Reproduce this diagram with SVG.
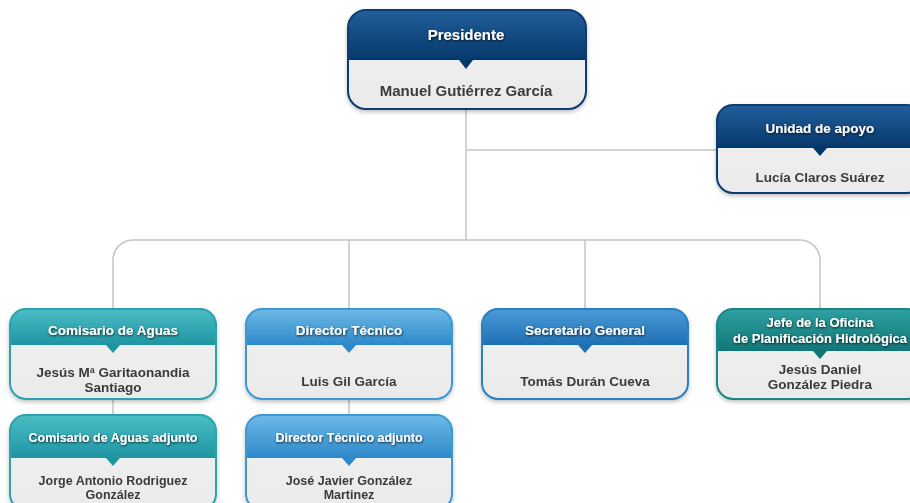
<svg xmlns="http://www.w3.org/2000/svg" width="910" height="503" viewBox="0 0 910 503">
<defs>
<linearGradient id="gNavy" x1="0" y1="0" x2="0" y2="1"><stop offset="0" stop-color="#235f9b"/><stop offset="1" stop-color="#04386b"/></linearGradient>
<linearGradient id="gTeal" x1="0" y1="0" x2="0" y2="1"><stop offset="0" stop-color="#4bbdc5"/><stop offset="1" stop-color="#1f95a2"/></linearGradient>
<linearGradient id="gLight" x1="0" y1="0" x2="0" y2="1"><stop offset="0" stop-color="#6dbae7"/><stop offset="1" stop-color="#2e88c9"/></linearGradient>
<linearGradient id="gBlue" x1="0" y1="0" x2="0" y2="1"><stop offset="0" stop-color="#4b9bd7"/><stop offset="1" stop-color="#1e70b3"/></linearGradient>
<linearGradient id="gDTeal" x1="0" y1="0" x2="0" y2="1"><stop offset="0" stop-color="#2fa0a1"/><stop offset="1" stop-color="#117676"/></linearGradient>
<linearGradient id="gBody" x1="0" y1="0" x2="0" y2="1"><stop offset="0" stop-color="#f2f2f2"/><stop offset="1" stop-color="#eaeaea"/></linearGradient>
<filter id="sh" x="-10%" y="-10%" width="120%" height="130%"><feDropShadow dx="0" dy="2" stdDeviation="2" flood-color="#000" flood-opacity="0.25"/></filter>
<filter id="tsh" x="-10%" y="-30%" width="120%" height="160%"><feDropShadow dx="0.5" dy="1" stdDeviation="0.8" flood-color="#000" flood-opacity="0.8"/></filter>
</defs>
<style>
.body{fill:url(#gBody)}
.ol{fill:none;stroke-width:2}
.hd{font-family:"Liberation Sans",Arial,sans-serif;font-weight:bold;fill:#ffffff;text-anchor:middle;filter:url(#tsh)}
.nm{font-family:"Liberation Sans",Arial,sans-serif;font-weight:bold;fill:#3a3a3a;text-anchor:middle;font-size:13.5px}
.cn{fill:none;stroke:#c4c4c4;stroke-width:1.5}
</style>
<g id="connectors">
<path class="cn" d="M466,109 V240"/>
<path class="cn" d="M466,150 H717"/>
<path class="cn" d="M113,309 V260 A20,20 0 0 1 133,240 H800 A20,20 0 0 1 820,260 V309"/>
<path class="cn" d="M349,240 V309"/>
<path class="cn" d="M585,240 V309"/>
<path class="cn" d="M113,399 V415"/>
<path class="cn" d="M349,399 V415"/>
</g>
<g id="presidente" filter="url(#sh)">
<rect class="body" x="348" y="10" width="238" height="99" rx="18"/>
<path fill="url(#gNavy)" d="M348,60 V28 A18,18 0 0 1 366,10 H568 A18,18 0 0 1 586,28 V60 Z"/>
<path fill="#04386b" d="M459,60 L473,60 L466,69 Z"/>
<rect class="ol" stroke="#0b3d70" x="348" y="10" width="238" height="99" rx="18"/>
<text class="hd" x="466" y="40" font-size="15">Presidente</text>
<text class="nm" x="466" y="96" font-size="15" style="font-size:15px">Manuel Gutiérrez García</text>
</g>
<g id="unidad" filter="url(#sh)">
<rect class="body" x="717" y="105" width="206" height="88" rx="16"/>
<path fill="url(#gNavy)" d="M717,148 V121 A16,16 0 0 1 733,105 H907 A16,16 0 0 1 923,121 V148 Z"/>
<path fill="#04386b" d="M813,148 L827,148 L820,156 Z"/>
<rect class="ol" stroke="#0b3d70" x="717" y="105" width="206" height="88" rx="16"/>
<text class="hd" x="820" y="133" font-size="13.5">Unidad de apoyo</text>
<text class="nm" x="820" y="182">Lucía Claros Suárez</text>
</g>
<g id="comisario" filter="url(#sh)">
<rect class="body" x="10" y="309" width="206" height="90" rx="16"/>
<path fill="url(#gTeal)" d="M10,345 V325 A16,16 0 0 1 26,309 H200 A16,16 0 0 1 216,325 V345 Z"/>
<path fill="#1f95a2" d="M106,345 L120,345 L113,353 Z"/>
<rect class="ol" stroke="#2ca3b0" x="10" y="309" width="206" height="90" rx="16"/>
<text class="hd" x="113" y="335" font-size="13.5">Comisario de Aguas</text>
<text class="nm" x="113" y="377">Jesús Mª Garitaonandia</text>
<text class="nm" x="113" y="392">Santiago</text>
</g>
<g id="director" filter="url(#sh)">
<rect class="body" x="246" y="309" width="206" height="90" rx="16"/>
<path fill="url(#gLight)" d="M246,345 V325 A16,16 0 0 1 262,309 H436 A16,16 0 0 1 452,325 V345 Z"/>
<path fill="#2e88c9" d="M342,345 L356,345 L349,353 Z"/>
<rect class="ol" stroke="#3d98d6" x="246" y="309" width="206" height="90" rx="16"/>
<text class="hd" x="349" y="335" font-size="13.5">Director Técnico</text>
<text class="nm" x="349" y="386">Luis Gil García</text>
</g>
<g id="secretario" filter="url(#sh)">
<rect class="body" x="482" y="309" width="206" height="90" rx="16"/>
<path fill="url(#gBlue)" d="M482,345 V325 A16,16 0 0 1 498,309 H672 A16,16 0 0 1 688,325 V345 Z"/>
<path fill="#1e70b3" d="M578,345 L592,345 L585,353 Z"/>
<rect class="ol" stroke="#2a7fc2" x="482" y="309" width="206" height="90" rx="16"/>
<text class="hd" x="585" y="335" font-size="13.5">Secretario General</text>
<text class="nm" x="585" y="386">Tomás Durán Cueva</text>
</g>
<g id="jefe" filter="url(#sh)">
<rect class="body" x="717" y="309" width="206" height="90" rx="16"/>
<path fill="url(#gDTeal)" d="M717,351 V325 A16,16 0 0 1 733,309 H907 A16,16 0 0 1 923,325 V351 Z"/>
<path fill="#117676" d="M813,351 L827,351 L820,359 Z"/>
<rect class="ol" stroke="#1a8587" x="717" y="309" width="206" height="90" rx="16"/>
<text class="hd" x="820" y="327" font-size="13">Jefe de la Oficina</text>
<text class="hd" x="820" y="343" font-size="13">de Planificación Hidrológica</text>
<text class="nm" x="820" y="374">Jesús Daniel</text>
<text class="nm" x="820" y="389">González Piedra</text>
</g>
<g id="comisario-adjunto" filter="url(#sh)">
<rect class="body" x="10" y="415" width="206" height="95" rx="16"/>
<path fill="url(#gTeal)" d="M10,458 V431 A16,16 0 0 1 26,415 H200 A16,16 0 0 1 216,431 V458 Z"/>
<path fill="#1f95a2" d="M106,458 L120,458 L113,466 Z"/>
<rect class="ol" stroke="#2ca3b0" x="10" y="415" width="206" height="95" rx="16"/>
<text class="hd" x="113" y="442" font-size="12.5">Comisario de Aguas adjunto</text>
<text class="nm" x="113" y="485" style="font-size:12.5px">Jorge Antonio Rodriguez</text>
<text class="nm" x="113" y="499" style="font-size:12.5px">González</text>
</g>
<g id="director-adjunto" filter="url(#sh)">
<rect class="body" x="246" y="415" width="206" height="95" rx="16"/>
<path fill="url(#gLight)" d="M246,458 V431 A16,16 0 0 1 262,415 H436 A16,16 0 0 1 452,431 V458 Z"/>
<path fill="#2e88c9" d="M342,458 L356,458 L349,466 Z"/>
<rect class="ol" stroke="#3d98d6" x="246" y="415" width="206" height="95" rx="16"/>
<text class="hd" x="349" y="442" font-size="12.5">Director Técnico adjunto</text>
<text class="nm" x="349" y="485" style="font-size:12.5px">José Javier González</text>
<text class="nm" x="349" y="499" style="font-size:12.5px">Martinez</text>
</g>
</svg>
